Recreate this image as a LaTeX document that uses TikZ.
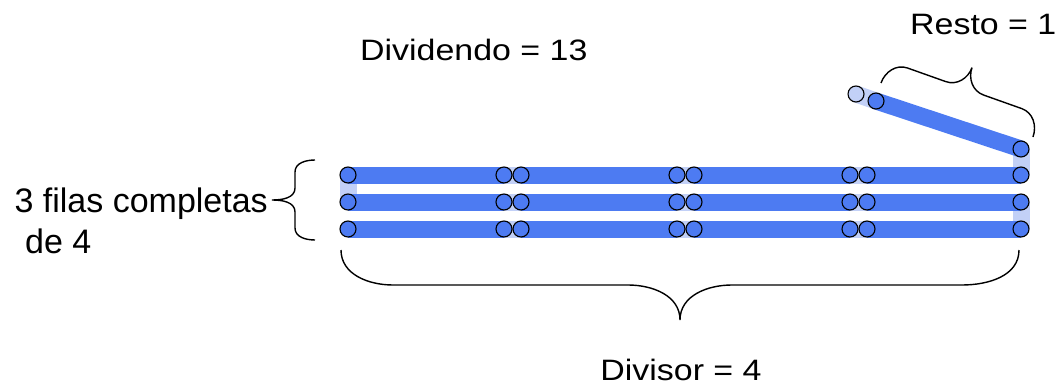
\documentclass[tikz,border=0pt]{standalone}
\usepackage{fontspec}
\setmainfont{Liberation Sans}
\usetikzlibrary{backgrounds}
\definecolor{barblue}{HTML}{4D7BF2}
\definecolor{lightblue}{HTML}{C2D0F7}
\tikzset{
  dot/.style={circle,draw=black,line width=1.1pt,fill=barblue,minimum size=16pt,inner sep=0pt},
  lightdot/.style={dot,fill=lightblue},
  bar/.style={line width=17pt,draw=barblue,line cap=butt},
  lightbar/.style={line width=17pt,draw=lightblue,line cap=butt},
  bracepath/.style={draw=black,line width=1.4pt},
  bigtext/.style={font=\fontsize{29.5}{34}\selectfont,inner sep=0pt},
  sidetext/.style={font=\fontsize{34}{40}\selectfont,inner sep=0pt}
}
\begin{document}
\begin{tikzpicture}[x=1pt,y=1pt]
\useasboundingbox (0,0) rectangle (1060,389);
% circles
\foreach \r/\y in {1/214,2/187,3/160}{
  \foreach \c/\x in {1/348,2/504,3/521,4/677,5/694,6/850,7/867,8/1021}{
    \node[dot] (r\r c\c) at (\x,\y) {};
  }
}
\node[dot] (t) at (1021,240) {};
\node[dot] (d1) at (876,288) {};
\node[lightdot] (d0) at (856,295) {};
\begin{scope}[on background layer]
  % light links
  \foreach \r in {1,2,3}{
    \draw[lightbar] (r\r c2.center) -- (r\r c3.center);
    \draw[lightbar] (r\r c4.center) -- (r\r c5.center);
    \draw[lightbar] (r\r c6.center) -- (r\r c7.center);
  }
  \draw[lightbar] (r1c1.center) -- (r2c1.center);
  \draw[lightbar] (t.center) -- (r1c8.center);
  \draw[lightbar] (r2c8.center) -- (r3c8.center);
  \draw[lightbar] (d1.center) -- (d0.center);
  % dark bars
  \foreach \r in {1,2,3}{
    \draw[bar] (r\r c1.center) -- (r\r c2.center);
    \draw[bar] (r\r c3.center) -- (r\r c4.center);
    \draw[bar] (r\r c5.center) -- (r\r c6.center);
    \draw[bar] (r\r c7.center) -- (r\r c8.center);
  }
  \draw[bar] (t.center) -- (d1.center);
\end{scope}
% left brace
\draw[bracepath] (315,229) to[out=180,in=90] (295,217) -- (295,201) to[out=-90,in=0] (272,189)
  to[out=0,in=90] (295,177) -- (295,161) to[out=-90,in=180] (315,149);
% bottom brace
\draw[bracepath] (341,139) to[out=-90,in=180] (393,104) -- (628,104) to[out=0,in=90] (680,69)
  to[out=90,in=180] (732,104) -- (962,104) to[out=0,in=-90] (1019,139);
% top brace
\begin{scope}[shift={(881,306)},rotate=-19.56]
\draw[bracepath] (0,0) to[out=90,in=180] (20,23) -- (60.6,23) to[out=0,in=-90] (80.6,45)
  to[out=-90,in=180] (100.6,23) -- (141.3,23) to[out=0,in=90] (161.3,0);
\end{scope}
% texts
\node[bigtext,anchor=base west] (dividendo) at (360,328) {\scalebox{1.15}[1]{Dividendo = 13}};
\node[bigtext,anchor=base west] (resto) at (910,354) {\scalebox{1.15}[1]{Resto = 1}};
\node[bigtext,anchor=base] (divisor) at (681,9) {\scalebox{1.15}[1]{Divisor = 4}};
\node[sidetext,anchor=base east] (filas) at (268,177) {3 filas completas};
\node[sidetext,anchor=base west] (de4) at (25,136) {de 4};
\end{tikzpicture}
\end{document}
